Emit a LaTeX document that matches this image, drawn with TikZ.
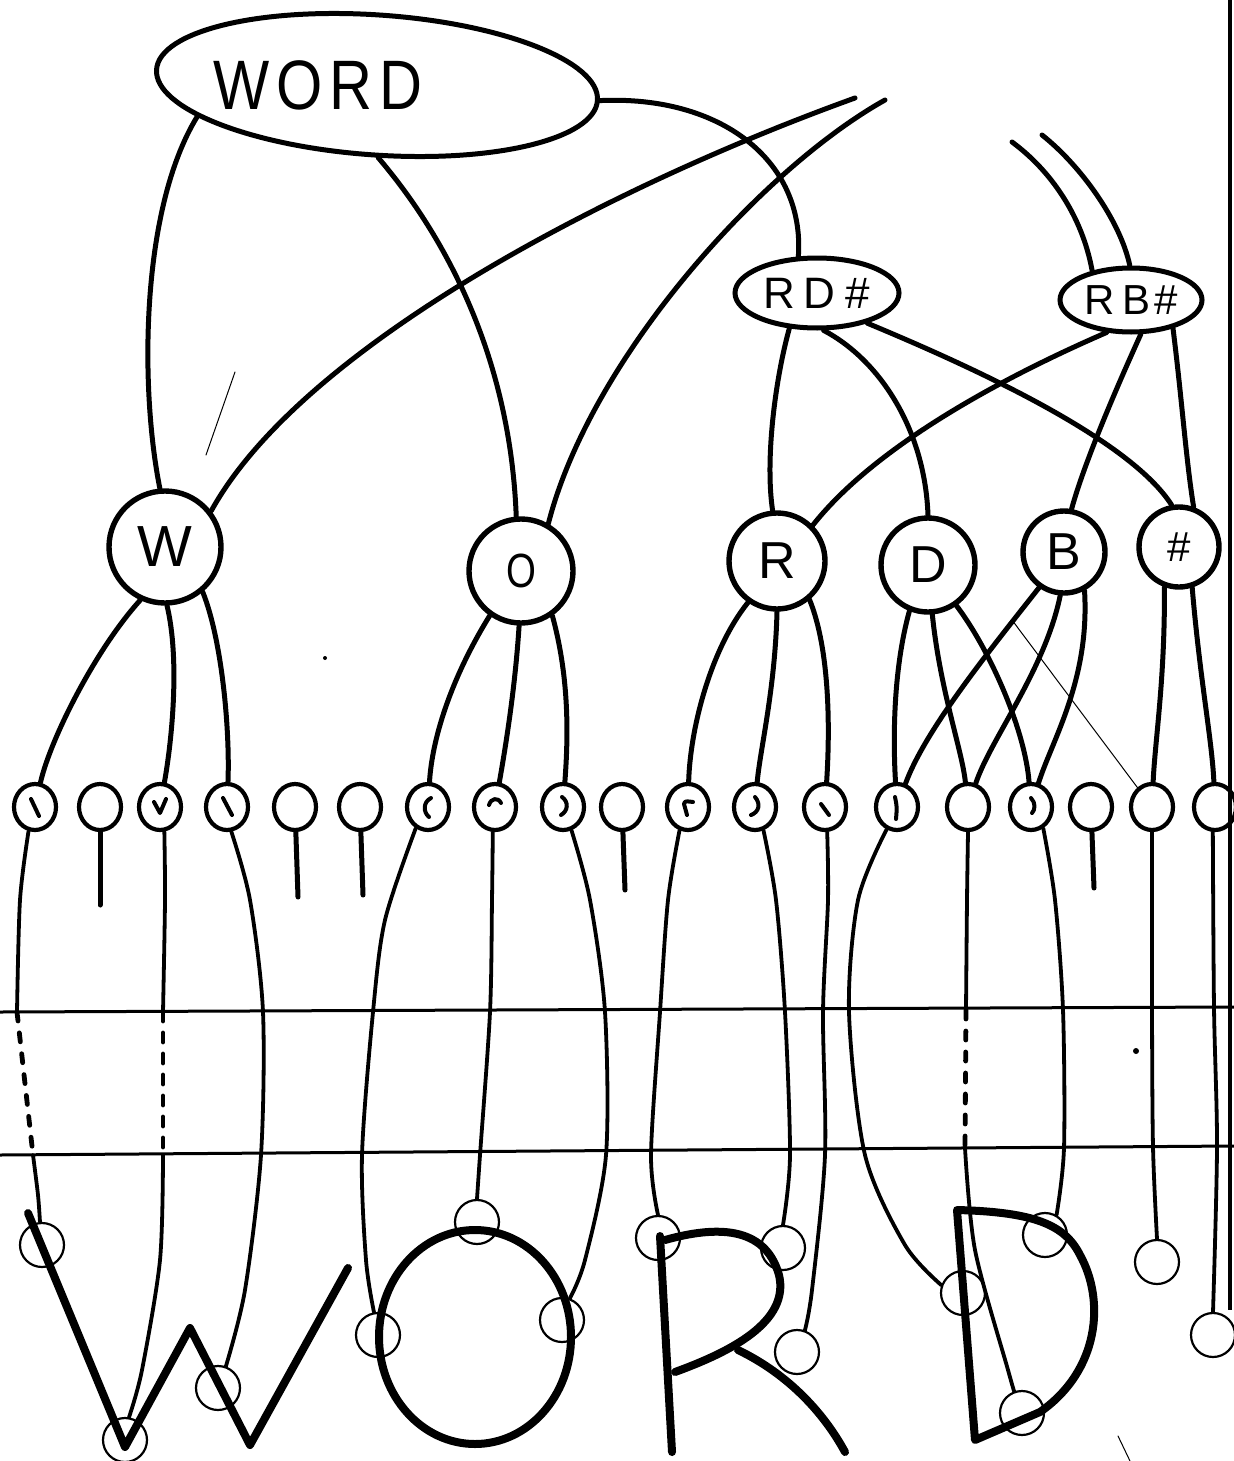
\documentclass[tikz,border=0pt]{standalone}
\usepackage{fontspec}
\setmainfont{Liberation Sans}
\usetikzlibrary{shapes.geometric}
\begin{document}
\begin{tikzpicture}[x=0.5pt,y=-0.5pt,
  conn/.style={line width=2.5pt,line cap=round},
  lowconn/.style={line width=1.9pt,line cap=round},
  dashconn/.style={line width=2.4pt,line cap=round,dash pattern=on 4.5pt off 6pt},
  lettercirc/.style={draw,circle,line width=2.7pt,inner sep=0pt},
  blob/.style={draw,ellipse,line width=2.5pt,inner sep=0pt},
  bead/.style={draw,ellipse,line width=2.1pt,minimum width=21pt,minimum height=23pt,inner sep=0pt},
  ring/.style={draw,circle,line width=1.1pt,minimum size=22pt,inner sep=0pt},
  glyph/.style={line width=2pt,line cap=round,line join=round},
  penstroke/.style={line width=4pt,line cap=round,line join=round},
  guideline/.style={line width=1.5pt},
  hair/.style={line width=0.5pt,line cap=round},
]
\useasboundingbox (0,0) rectangle (1234,1461);
\fill[white] (0,0) rectangle (1234,1461);

% edge of the sheet on the right
\draw[line width=2.4pt] (1230,0) -- (1230,1310);

% the two horizontal guide lines
\draw[guideline] (0,1012) -- (1234,1007);
\draw[guideline] (0,1155) -- (1234,1146);

% ---------- top level ----------
\node[blob,minimum width=221pt,minimum height=70pt,rotate=-4] (WORD) at (377,85) {};
\node[font=\fontsize{35}{35}\selectfont] (WORDtext) at (318,85) {\scalebox{0.85}[1]{W\hspace{4pt}O\hspace{4pt}R\hspace{4pt}D}};

\node[blob,minimum width=82pt,minimum height=35pt,font=\fontsize{22}{22}\selectfont] (RD) at (817,293) {R\hspace{4pt}D\hspace{5pt}\#};
\node[blob,minimum width=71pt,minimum height=32pt,font=\fontsize{21}{21}\selectfont] (RB) at (1131,300) {R\hspace{4pt}B\hspace{2pt}\#};

% ---------- letter units ----------
\node[lettercirc,minimum size=56pt,font=\fontsize{29}{29}\selectfont] (W) at (165,547) {W};
\node[lettercirc,minimum size=52pt,font=\fontsize{24}{24}\selectfont] (O) at (521,571) {\scalebox{0.8}[1]{O}};
\node[lettercirc,minimum size=48pt,font=\fontsize{26}{26}\selectfont] (R) at (777,561) {R};
\node[lettercirc,minimum size=47pt,font=\fontsize{26}{26}\selectfont] (D) at (928,565) {D};
\node[lettercirc,minimum size=41pt,font=\fontsize{26}{26}\selectfont] (B) at (1064,552) {B};
\node[lettercirc,minimum size=40pt,font=\fontsize{21}{21}\selectfont] (H) at (1179,547) {\#};

% ---------- stroke units ----------
\foreach \x [count=\i] in {35,100,160,227,295,360,428,495,563,622,688,755,825,897,968,1031,1091,1152,1215}
  \node[bead] (s\i) at (\x,807) {};

% marks inside the stroke units
\draw[glyph] ([shift={(-4,-8)}]s1.center) -- ([shift={(4,9)}]s1.center);
\draw[glyph] ([shift={(-6,-5)}]s3.center) -- ([shift={(0,6)}]s3.center) -- ([shift={(6,-8)}]s3.center);
\draw[glyph] ([shift={(-4,-9)}]s4.center) -- ([shift={(5,8)}]s4.center);
\draw[glyph] ([shift={(3,-9)}]s7.center) .. controls ([shift={(-5,-5)}]s7.center) and ([shift={(-5,5)}]s7.center) .. ([shift={(1,10)}]s7.center);
\draw[glyph] ([shift={(-6,-2)}]s8.center) .. controls ([shift={(-4,-9)}]s8.center) and ([shift={(3,-10)}]s8.center) .. ([shift={(6,-4)}]s8.center);
\draw[glyph] ([shift={(-1,-10)}]s9.center) .. controls ([shift={(6,-5)}]s9.center) and ([shift={(5,4)}]s9.center) .. ([shift={(-2,8)}]s9.center);
\draw[glyph] ([shift={(-1,8)}]s11.center) -- ([shift={(-4,-3)}]s11.center) .. controls ([shift={(-3,-6)}]s11.center) .. ([shift={(5,-5)}]s11.center);
\draw[glyph] ([shift={(0,-10)}]s12.center) .. controls ([shift={(6,-3)}]s12.center) and ([shift={(4,5)}]s12.center) .. ([shift={(-4,8)}]s12.center);
\draw[glyph] ([shift={(-4,-3)}]s13.center) -- ([shift={(4,8)}]s13.center);
\draw[glyph] ([shift={(-2,-10)}]s14.center) .. controls ([shift={(0,0)}]s14.center) .. ([shift={(-1,12)}]s14.center);
\draw[glyph] ([shift={(0,-9)}]s16.center) .. controls ([shift={(5,-4)}]s16.center) and ([shift={(4,3)}]s16.center) .. ([shift={(1,6)}]s16.center);

% stems that end freely
\coordinate (e2) at (100,905);
\coordinate (e5) at (298,897);
\coordinate (e6) at (363,895);
\coordinate (e10) at (625,890);
\coordinate (e17) at (1094,888);
\foreach \i in {2,5,6,10,17} \draw[conn] (s\i) -- (e\i);

% ---------- drawn letters at the bottom ----------
\draw[penstroke] (28,1213) -- (125,1447) -- (190,1328) -- (250,1445) -- (348,1268);
\draw[penstroke] (475,1337) ellipse [x radius=96, y radius=107];
\draw[penstroke] (660,1236) -- (672,1452);
\draw[penstroke] (665,1240) .. controls (715,1226) and (765,1225) .. (779,1275)
  .. controls (790,1322) and (730,1352) .. (675,1372);
\draw[penstroke] (738,1350) .. controls (790,1375) and (825,1415) .. (845,1452);
\draw[penstroke] (957,1210) -- (975,1440) -- (1040,1412)
  .. controls (1100,1370) and (1105,1300) .. (1080,1255)
  .. controls (1065,1225) and (1035,1212) .. cycle;

% end rings on the letters
\node[ring] (ta) at (42,1245) {};
\node[ring] (tb) at (125,1440) {};
\node[ring] (tc) at (218,1388) {};
\node[ring] (td) at (378,1335) {};
\node[ring] (te) at (477,1222) {};
\node[ring] (tf) at (562,1320) {};
\node[ring] (tg) at (658,1238) {};
\node[ring] (th) at (783,1248) {};
\node[ring] (ti) at (797,1352) {};
\node[ring] (tj) at (963,1293) {};
\node[ring] (tk) at (1022,1413) {};
\node[ring] (tl) at (1045,1235) {};
\node[ring] (tm) at (1157,1262) {};
\node[ring] (tn) at (1213,1335) {};

% ---------- connectors from the top ----------
\coordinate (f1) at (855,98);
\coordinate (f2) at (885,100);
\coordinate (f3) at (1012,142);
\coordinate (f4) at (1042,135);

\draw[conn] (WORD.194) .. controls (140,210) and (140,390) .. (W.95);
\draw[conn] (WORD.-85) .. controls (440,230) and (510,350) .. (O.95);
\draw[conn] (WORD.east) .. controls (720,95) and (805,160) .. (RD.117);
\draw[conn] (f1) .. controls (600,190) and (300,350) .. (W.38);
\draw[conn] (f2) .. controls (760,170) and (590,360) .. (O.60);
\draw[conn] (f3) .. controls (1050,170) and (1082,215) .. (RB.143);
\draw[conn] (f4) .. controls (1080,165) and (1120,220) .. (RB.92);

\draw[conn] (RD.232) .. controls (775,380) and (765,460) .. (R.95);
\draw[conn] (RD.-80) .. controls (880,360) and (925,430) .. (D.90);
\draw[conn] (RD.-31) .. controls (980,370) and (1130,440) .. (H.100);
\draw[conn] (RB.233) .. controls (1020,370) and (880,440) .. (R.45);
\draw[conn] (RB.-74) .. controls (1120,380) and (1085,460) .. (B.80);
\draw[conn] (RB.-34) .. controls (1182,400) and (1186,460) .. (H.70);

% ---------- letter units to stroke units ----------
\draw[conn] (W.-115) .. controls (95,650) and (50,740) .. (s1);
\draw[conn] (W.-88) .. controls (180,660) and (172,740) .. (s3);
\draw[conn] (W.-50) .. controls (222,640) and (230,730) .. (s4);
\draw[conn] (O.-125) .. controls (450,680) and (432,740) .. (s7);
\draw[conn] (O.-92) .. controls (515,690) and (505,750) .. (s8);
\draw[conn] (O.-55) .. controls (570,680) and (568,740) .. (s9);
\draw[conn] (R.-125) .. controls (710,650) and (690,730) .. (s11);
\draw[conn] (R.-90) .. controls (775,690) and (760,750) .. (s12);
\draw[conn] (R.-50) .. controls (830,650) and (830,730) .. (s13);
\draw[conn] (D.-112) .. controls (893,670) and (893,740) .. (s14);
\draw[conn] (D.-85) .. controls (940,690) and (962,750) .. (s15);
\draw[conn] (D.-55) .. controls (990,650) and (1025,730) .. (s16);
\draw[conn] (B.-125) .. controls (990,650) and (925,730) .. (s14);
\draw[conn] (B.-95) .. controls (1045,670) and (990,740) .. (s15);
\draw[conn] (B.-62) .. controls (1090,680) and (1052,740) .. (s16);
\draw[conn] (H.-110) .. controls (1165,680) and (1155,740) .. (s18);
\draw[conn] (H.-72) .. controls (1200,680) and (1212,740) .. (s19);
\coordinate (g1) at (1012,620);
\draw[hair] (g1) -- (s18);

% ---------- stroke units to end rings ----------
\coordinate (k1a) at (17,1012);  \coordinate (k1b) at (33,1155);
\coordinate (k3a) at (163,1012); \coordinate (k3b) at (163,1155);
\coordinate (k15a) at (966,1010); \coordinate (k15b) at (965,1148);

\draw[lowconn] plot[smooth] coordinates {(s1.-105) (20,900) (k1a)};
\draw[dashconn] (k1a) -- (k1b);
\draw[lowconn] plot[smooth] coordinates {(k1b) (38,1195) (ta.95)};

\draw[lowconn] plot[smooth] coordinates {(s3.-80) (165,900) (k3a)};
\draw[dashconn] (k3a) -- (k3b);
\draw[lowconn] plot[smooth] coordinates {(k3b) (160,1260) (142,1370) (tb.80)};

\draw[lowconn] plot[smooth] coordinates {(s4.-80) (250,900) (263,1012) (261,1155) (245,1290) (tc.70)};
\draw[lowconn] plot[smooth] coordinates {(s7.-120) (385,920) (373,1012) (362,1155) (366,1260) (td.100)};
\draw[lowconn] plot[smooth] coordinates {(s8.-95) (492,900) (490,1012) (480,1155) (te.north)};
\draw[lowconn] plot[smooth] coordinates {(s9.-70) (590,900) (605,1012) (606,1155) (585,1260) (tf.70)};
\draw[lowconn] plot[smooth] coordinates {(s11.-110) (668,900) (660,1012) (651,1155) (tg.north)};
\draw[lowconn] plot[smooth] coordinates {(s12.-70) (776,900) (785,1012) (790,1155) (th.north)};
\draw[lowconn] plot[smooth] coordinates {(s13.-85) (828,900) (823,1012) (825,1155) (812,1290) (ti.70)};
\draw[lowconn] plot[smooth] coordinates {(s14.-115) (858,900) (849,1012) (865,1155) (905,1245) (tj.160)};

\draw[lowconn] plot[smooth] coordinates {(s15.-90) (967,900) (k15a)};
\draw[dashconn] (k15a) -- (k15b);
\draw[lowconn] plot[smooth] coordinates {(k15b) (975,1250) (1008,1370) (tk.110)};

\draw[lowconn] plot[smooth] coordinates {(s16.-60) (1055,900) (1063,1010) (1064,1148) (tl.60)};
\draw[lowconn] plot[smooth] coordinates {(s18.-90) (1152,1009) (1153,1147) (tm.north)};
\draw[lowconn] plot[smooth] coordinates {(s19.-95) (1214,1008) (1217,1147) (tn.north)};

% stray pen marks
\draw[hair] (235,372) -- (206,455);
\draw[hair] (1118,1436) -- (1130,1461);
\fill (1136,1051) circle [radius=3];
\fill (325,658) circle [radius=2];
\end{tikzpicture}
\end{document}
